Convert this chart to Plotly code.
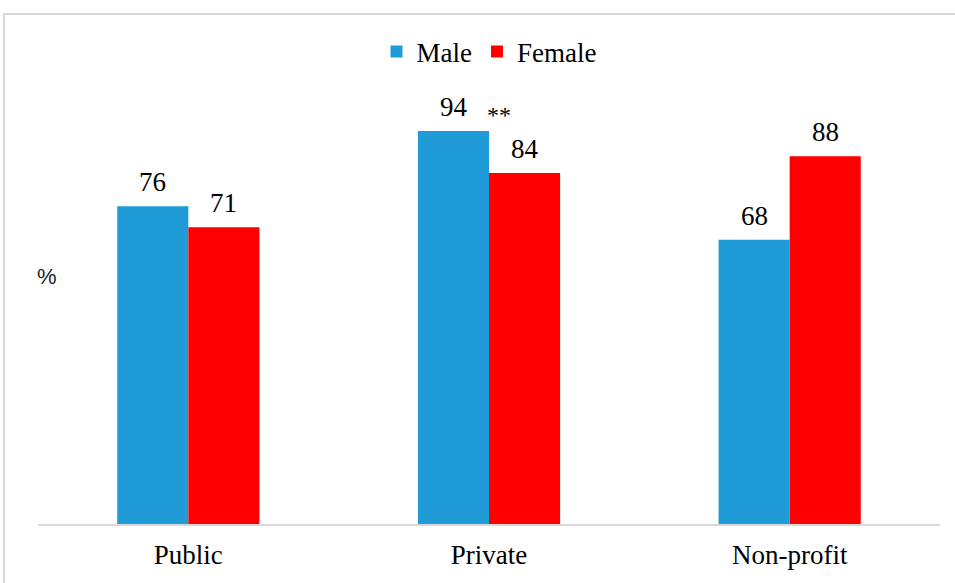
import plotly.graph_objects as go

categories = ["Public", "Private", "Non-profit"]
male = [76, 94, 68]
female = [71, 84, 88]

W, H = 955, 583
ml, mr, mt, mb = 38, 15, 106, 59
pw, ph = W - ml - mr, H - mt - mb
base = 524  # baseline pixel


def px_y(p):
    return (base - p) / ph


def px_x(p):
    return (p - ml) / pw


fig = go.Figure()
fig.add_trace(go.Bar(name="Male", x=categories, y=male, marker_color="#1F9BD7", marker_line_width=0))
fig.add_trace(go.Bar(name="Female", x=categories, y=female, marker_color="#FF0000", marker_line_width=0))

font = "Times New Roman, Liberation Serif, DejaVu Serif, serif"
FS = 27
annotations = []
for c, m, f in zip(categories, male, female):
    annotations.append(dict(x=c, y=m, text=str(m), xshift=-35.5, yshift=7, yanchor="bottom",
                            showarrow=False, font=dict(family=font, size=FS, color="black")))
    annotations.append(dict(x=c, y=f, text=str(f), xshift=35.5, yshift=7, yanchor="bottom",
                            showarrow=False, font=dict(family=font, size=FS, color="black")))
annotations.append(dict(x="Private", y=94, text="**", xshift=10, yshift=1, yanchor="bottom",
                        showarrow=False, font=dict(family=font, size=24, color="black")))
annotations.append(dict(xref="paper", yref="paper", x=px_x(47), y=px_y(276),
                        text="%", showarrow=False, xanchor="center", yanchor="middle",
                        font=dict(family="Liberation Sans", size=22, color="#222")))

fig.update_layout(
    width=W, height=H,
    margin=dict(l=ml, r=mr, t=mt, b=mb),
    paper_bgcolor="white", plot_bgcolor="white",
    barmode="group", bargap=0.527, bargroupgap=0,
    font=dict(family=font, size=FS, color="black"),
    legend=dict(orientation="h", x=0.5, xanchor="center", y=px_y(52), yanchor="middle",
                font=dict(family=font, size=FS, color="black"), itemwidth=30,
                traceorder="normal"),
    xaxis=dict(showline=True, linecolor="#D9D9D9", linewidth=2, ticks="", showgrid=False,
               tickfont=dict(family=font, size=FS, color="black"), ticklabelstandoff=6),
    yaxis=dict(range=[0, 100], visible=False, showgrid=False),
    annotations=annotations,
    shapes=[dict(type="rect", xref="paper", yref="paper",
                 x0=px_x(4), x1=px_x(975),
                 y0=px_y(600), y1=px_y(14),
                 line=dict(color="#D9D9D9", width=2), fillcolor="rgba(0,0,0,0)", layer="below")],
)

fig.write_html("out.html", config={"displayModeBar": False},
               post_script="document.body.style.margin='0';")
